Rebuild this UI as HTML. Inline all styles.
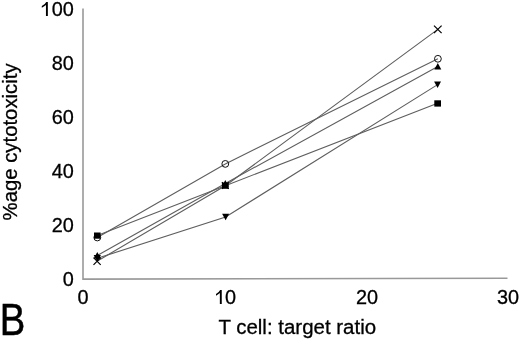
<!DOCTYPE html>
<html><head><meta charset="utf-8">
<style>
html,body{margin:0;padding:0;background:#fff;}
body{width:520px;height:340px;overflow:hidden;}
svg{display:block;filter:blur(0.45px);}
text{font-family:"Liberation Sans",sans-serif;fill:#000;stroke:#000;stroke-width:0.3px;}
</style></head>
<body>
<svg width="520" height="340" viewBox="0 0 520 340">
<rect width="520" height="340" fill="#fff"/>
<!-- axes -->
<path d="M83 8.6 V279.1 L507.5 278.3" fill="none" stroke="#999" stroke-width="1.6"/>
<!-- y labels -->
<g font-size="20.7" text-anchor="end">
<text transform="translate(73.9,16.1) scale(0.96,1)">00</text>
<path fill="#000" stroke="none" d="M47.85,16.00 L47.85,1.90 L46.25,1.90 Q44.95,4.50 41.80,6.00 L41.80,7.70 Q44.65,6.30 45.95,5.00 L45.95,16.00 Z"/>
<text transform="translate(73.9,70.2) scale(0.96,1)">80</text>
<text transform="translate(73.9,124.2) scale(0.96,1)">60</text>
<text transform="translate(73.9,178.3) scale(0.96,1)">40</text>
<text transform="translate(73.9,232.3) scale(0.96,1)">20</text>
<text transform="translate(73.9,286.4) scale(0.96,1)">0</text>
</g>
<!-- x labels -->
<g font-size="20.7" text-anchor="middle">
<text transform="translate(83,304.2) scale(0.96,1)">0</text>
<text transform="translate(225,304.2) scale(0.96,1)" text-anchor="start">0</text>
<path fill="#000" stroke="none" d="M221.75,303.90 L221.75,289.90 L220.15,289.90 Q218.85,292.50 216.00,294.00 L216.00,295.70 Q218.55,294.30 219.85,293.00 L219.85,303.90 Z"/>
<text transform="translate(367,304.2) scale(0.96,1)">20</text>
<text transform="translate(508,304.2) scale(0.96,1)">30</text>
</g>
<text transform="translate(218.4,333.9) scale(0.975,1)" font-size="21">T cell: target ratio</text>
<text transform="translate(17.1,220.4) rotate(-90) scale(0.968,1)" font-size="21">%age cytotoxicity</text>
<text transform="translate(-0.3,334.8) scale(0.88,1)" font-size="43.5" style="stroke-width:0.5px">B</text>
<!-- series lines -->
<g fill="none" stroke="#5e5e5e" stroke-width="1.1">
<polyline points="97.1,261.2 225.3,185.8 437.8,29.4"/>
<polyline points="97.3,237.5 225.3,163.9 437.9,58.8"/>
<polyline points="97.3,255.5 225.3,183.5 437.8,66.5"/>
<polyline points="97.3,258.3 225.6,217 437.6,84.6"/>
<polyline points="97.3,235.5 225.3,185.7 437.6,103.2"/>
</g>
<!-- markers -->
<g id="m">
<!-- X -->
<g stroke="#000" stroke-width="1.2" fill="none">
<path d="M93.5,257.6 L100.7,264.8 M100.7,257.6 L93.5,264.8"/>
<path d="M221.9,182.1 L228.7,188.9 M228.7,182.1 L221.9,188.9"/>
<path d="M434,25.6 L441.6,33.2 M441.6,25.6 L434,33.2"/>
</g>
<!-- circles -->
<g stroke="#111" stroke-width="1.0" fill="none">
<circle cx="97.3" cy="237.5" r="3.4"/>
<circle cx="225.3" cy="163.9" r="3.4"/>
<circle cx="437.9" cy="58.8" r="3.4"/>
</g>
<g fill="#000">
<!-- up triangles -->
<path d="M97.3,251.9 L100.9,258.6 L93.7,258.6Z"/>
<path d="M225.3,179.9 L228.8,186.5 L221.8,186.5Z"/>
<path d="M437.8,63 L441.3,69.6 L434.3,69.6Z"/>
<!-- down triangles -->
<path d="M93.7,255 L100.9,255 L97.3,261.8Z"/>
<path d="M222.1,213.7 L229.2,213.7 L225.6,220.3Z"/>
<path d="M434.1,81.4 L441,81.4 L437.6,87.9Z"/>
<!-- squares -->
<rect x="94" y="232.5" width="6.6" height="6.2"/>
<rect x="221.9" y="182.6" width="6.8" height="6.2"/>
<rect x="434.3" y="100.3" width="6.7" height="6.3"/>
</g>
</g>
</svg>
</body></html>
